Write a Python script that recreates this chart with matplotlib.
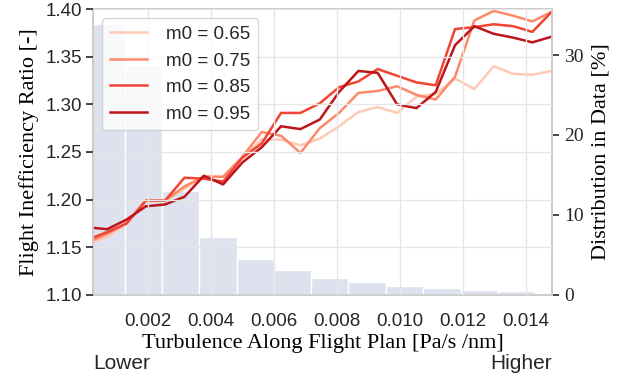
import numpy as np
import matplotlib
matplotlib.use('Agg')
import matplotlib.pyplot as plt

# turbulence grid (Pa/s /nm) used for the ratio curves
turb = [0.000084, 0.000698, 0.001312, 0.001926, 0.002540, 0.003154, 0.003768,
        0.004382, 0.004996, 0.005610, 0.006224, 0.006838, 0.007452, 0.008066,
        0.008680, 0.009294, 0.009908, 0.010522, 0.011136, 0.011750, 0.012364,
        0.012978, 0.013592, 0.014206, 0.014820]

m0_labels = ['m0 = 0.65', 'm0 = 0.75', 'm0 = 0.85', 'm0 = 0.95']

ratio_065 = [1.153, 1.161, 1.175, 1.198, 1.199, 1.211, 1.225, 1.224, 1.244,
             1.263, 1.263, 1.257, 1.264, 1.277, 1.292, 1.297, 1.291, 1.308,
             1.311, 1.327, 1.316, 1.340, 1.332, 1.331, 1.335]
ratio_075 = [1.155, 1.164, 1.175, 1.199, 1.199, 1.214, 1.224, 1.224, 1.245,
             1.271, 1.267, 1.249, 1.275, 1.291, 1.312, 1.314, 1.319, 1.310,
             1.305, 1.329, 1.388, 1.398, 1.393, 1.387, 1.397]
ratio_085 = [1.158, 1.166, 1.175, 1.199, 1.199, 1.223, 1.222, 1.219, 1.244,
             1.259, 1.291, 1.291, 1.301, 1.318, 1.324, 1.337, 1.330, 1.323,
             1.320, 1.379, 1.381, 1.384, 1.382, 1.376, 1.397]
ratio_095 = [1.171, 1.169, 1.179, 1.193, 1.195, 1.203, 1.225, 1.216, 1.239,
             1.255, 1.277, 1.274, 1.284, 1.313, 1.335, 1.333, 1.300, 1.296,
             1.313, 1.362, 1.382, 1.374, 1.370, 1.365, 1.371]
ratios = [ratio_065, ratio_075, ratio_085, ratio_095]

# share of flights per turbulence bin (%)
bin_edges = [0.00009, 0.00127, 0.00244, 0.00362, 0.00483, 0.00600, 0.00718,
             0.00835, 0.00956, 0.01073, 0.01194, 0.01311, 0.01429, 0.01546]
share = [33.9, 28.75, 13.0, 7.2, 4.5, 3.1, 2.1, 1.6, 1.1, 0.83, 0.62, 0.45, 0.3]

sans = 'Liberation Sans'
serif = 'Liberation Serif'

fig = plt.figure(figsize=(6.32, 3.85), dpi=100)
ax = fig.add_axes([0.1472, 0.2338, 0.7262, 0.7428])
ax2 = ax.twinx()
ax.set_zorder(ax2.get_zorder() + 1)
ax.patch.set_visible(False)

# histogram behind the curves
widths = np.diff(bin_edges)
ax2.bar(bin_edges[:-1], share, width=widths, align='edge',
        color='#dde2ee', edgecolor='white', linewidth=1.0)
ax2.set_ylim(0, 35.75)
ax2.set_yticks([0, 10, 20, 30])
ax2.set_ylabel('Distribution in Data [%]', fontfamily=serif, fontsize=16,
               labelpad=5)

colors = plt.cm.Reds([0.2, 0.4, 0.6, 0.8])
for vals, lab, c in zip(ratios, m0_labels, colors):
    ax.plot(turb, vals, color=c, lw=1.8, label=lab)

ax.set_xlim(0.00025, 0.01483)
ax.set_ylim(1.10, 1.40)
ax.set_xticks([0.002, 0.004, 0.006, 0.008, 0.010, 0.012, 0.014])
ax.set_xticklabels(['0.002', '0.004', '0.006', '0.008', '0.010', '0.012', '0.014'])
ax.set_yticks([1.10, 1.15, 1.20, 1.25, 1.30, 1.35, 1.40])
ax.set_yticklabels(['1.10', '1.15', '1.20', '1.25', '1.30', '1.35', '1.40'])
ax.set_xlabel('Turbulence Along Flight Plan [Pa/s /nm]', fontfamily=serif,
              fontsize=16, labelpad=3)
ax.set_ylabel('Flight Inefficiency Ratio [-]', fontfamily=serif, fontsize=16,
              labelpad=5)

ax.grid(True, color='#e6e6e6', lw=1.0)
ax.set_axisbelow(False)
ax2.grid(False)

for a in (ax, ax2):
    for s in a.spines.values():
        s.set_color('#cccccc')
        s.set_linewidth(1.3)

ax.tick_params(axis='x', length=0, pad=13, labelsize=13.5)
ax.tick_params(axis='y', length=5, width=1.2, color='#262626', pad=2.5,
               labelsize=13.5)
ax2.tick_params(axis='y', length=5, width=1.2, color='#262626', pad=4,
                labelsize=14)
for t in ax.get_xticklabels() + ax.get_yticklabels():
    t.set_fontfamily(sans)
    t.set_color('#262626')
for t in ax2.get_yticklabels():
    t.set_fontfamily(serif)
    t.set_color('#262626')

leg = ax.legend(loc='upper left', prop={'family': sans, 'size': 13.5},
                frameon=True, framealpha=0.8, edgecolor='#cccccc',
                handlelength=2.0, handletextpad=1.0)
for t in leg.get_texts():
    t.set_color('#262626')

fig.text(0.1472, 0.055, 'Lower', ha='left', va='center', fontfamily=sans,
         fontsize=15, color='#262626')
fig.text(0.8734, 0.055, 'Higher', ha='right', va='center', fontfamily=sans,
         fontsize=15, color='#262626')

fig.savefig('out.png', dpi=100)
